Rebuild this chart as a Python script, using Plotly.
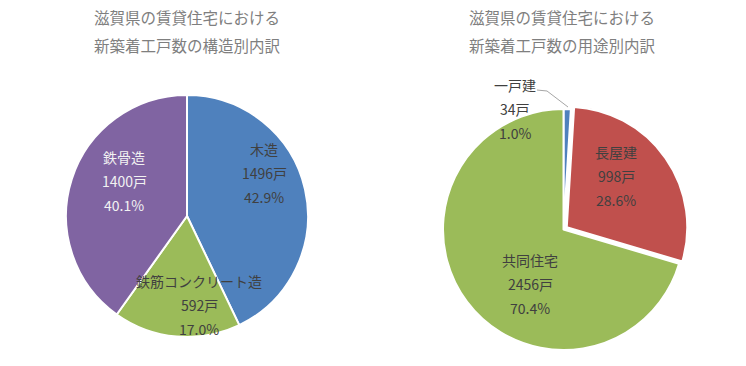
import plotly.graph_objects as go

W, H = 746, 366

# ---- data ----
struct_labels = ["木造", "鉄筋コンクリート造", "鉄骨造"]
struct_values = [1496, 592, 1400]
struct_colors = ["#4F81BD", "#9BBB59", "#8064A2"]

use_labels = ["一戸建", "長屋建", "共同住宅"]
use_values = [34, 998, 2456]
use_colors = ["#4F81BD", "#C0504D", "#9BBB59"]

title_left = ["滋賀県の賃貸住宅における", "新築着工戸数の構造別内訳"]
title_right = ["滋賀県の賃貸住宅における", "新築着工戸数の用途別内訳"]

FONT = "Noto Sans CJK JP, Noto Sans, sans-serif"


def px(x):
    return x / W


def py(y):
    return 1 - y / H


def dom(cx, cy, half):
    return dict(x=[px(cx - half), px(cx + half)], y=[py(cy + half), py(cy - half)])


fig = go.Figure()

# left pie: centre (187,216), r=121
fig.add_trace(go.Pie(
    labels=struct_labels, values=struct_values, sort=False, direction="clockwise",
    rotation=0, marker=dict(colors=struct_colors, line=dict(color="white", width=2)),
    textinfo="none", domain=dom(187, 216, 121), showlegend=False,
))

# right pie: centre (563.5,229.5), r=120.5, slice pulled
pull = [0, 0.033, 0]
fig.add_trace(go.Pie(
    labels=use_labels, values=use_values, sort=False, direction="clockwise",
    rotation=0, pull=pull,
    marker=dict(colors=use_colors, line=dict(color="white", width=2)),
    textinfo="none", domain=dom(563.5, 229.5, 120.5 * (1 + max(pull))), showlegend=False,
))

annotations = []


def add_text(x, y, t, size, color):
    annotations.append(dict(
        x=px(x), y=py(y), xref="paper", yref="paper", text=t, showarrow=False,
        xanchor="center", yanchor="middle", font=dict(family=FONT, size=size, color=color),
    ))


# titles
for i, t in enumerate(title_left):
    add_text(187, 17 + 28 * i, t, 15.5, "#7F7F7F")
for i, t in enumerate(title_right):
    add_text(562, 17 + 28 * i, t, 15.5, "#7F7F7F")

# data labels: centre of middle line for each slice
SP = 24
left_pos = [(264, 173), (199, 305), (124, 181)]
left_col = ["#404040", "#404040", "#F2F2F2"]
right_pos = [(515, 109), (616, 176), (530, 284)]
right_col = ["#404040", "#404040", "#404040"]


def add_labels(labels, values, pos, cols):
    tot = sum(values)
    for lab, v, (x, y), c in zip(labels, values, pos, cols):
        lines = [lab, f"{v}戸", f"{v / tot * 100:.1f}%"]
        for k, ln in enumerate(lines):
            add_text(x, y + (k - 1) * SP, ln, 14, c)


add_labels(struct_labels, struct_values, left_pos, left_col)
add_labels(use_labels, use_values, right_pos, right_col)

# leader line for 一戸建
path = f"M {px(537)} {py(90)} L {px(547)} {py(91)} L {px(568)} {py(107)}"
shapes = [dict(type="path", path=path, xref="paper", yref="paper",
               line=dict(color="#A6A6A6", width=1))]

fig.update_layout(
    width=W, height=H, margin=dict(l=0, r=0, t=0, b=0),
    paper_bgcolor="white", plot_bgcolor="white",
    annotations=annotations, shapes=shapes,
    font=dict(family=FONT),
)

fig.write_html(
    "out.html",
    config={"displayModeBar": False},
    post_script="document.body.style.margin='0';document.body.style.overflow='hidden';",
)
